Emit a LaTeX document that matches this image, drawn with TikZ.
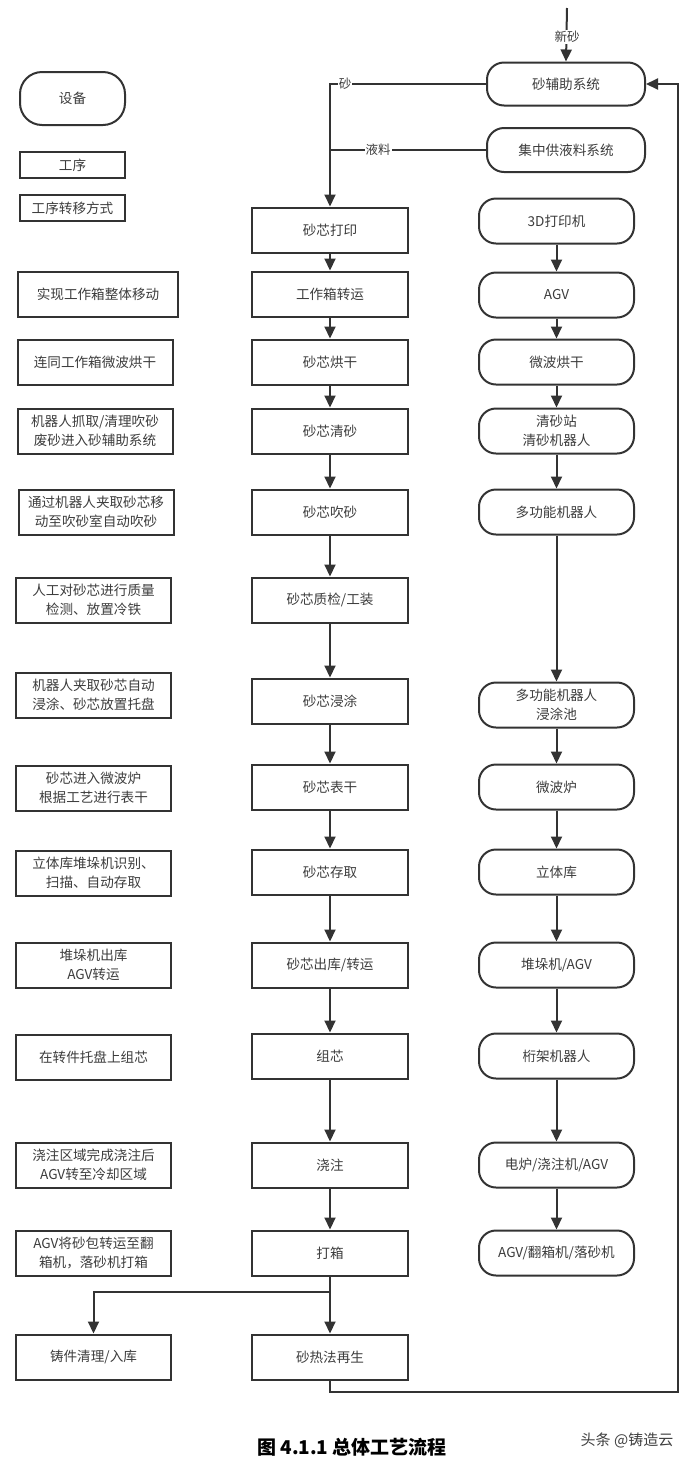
\documentclass[tikz,border=0pt]{standalone}
\usepackage{fontspec}
\setmainfont{Noto Sans CJK SC}
\usepackage{tikz}
\usetikzlibrary{arrows.meta, positioning}

\definecolor{linegray}{HTML}{333333}
\definecolor{textgray}{HTML}{3C3C3C}

\begin{document}
\begin{tikzpicture}
[x=1pt, y=-1pt,
 >={Triangle[length=12pt,width=11pt]},
 every node/.style={text=textgray, font=\fontsize{13.6}{18.5}\selectfont, align=center},
 proc/.style={draw=linegray, line width=2pt, rectangle,
   minimum width=156pt, minimum height=45pt, inner sep=2pt},
 device/.style={proc, rounded corners=17pt},
 note/.style={proc, minimum width=155pt},
 lbl/.style={fill=white, inner sep=1pt, font=\fontsize{12.5}{14}\selectfont},
 flow/.style={->, draw=linegray, line width=2pt},
 wire/.style={draw=linegray, line width=2pt},
]
\useasboundingbox (0,0) rectangle (700,1468);

% legend
\node[device, minimum width=105pt, minimum height=53pt, rounded corners=22pt] (legdev) at (72.5,98.5) {设备};
\node[proc, minimum width=105pt, minimum height=26pt] (legproc) at (72.5,165) {工序};
\node[proc, minimum width=105pt, minimum height=26pt] (legmove) at (72.5,208) {工序转移方式};

% supply systems
\node[device, minimum width=158pt, minimum height=43pt] (sandsys) at (566,84) {砂辅助系统};
\node[device, minimum width=158pt, minimum height=44pt] (liqsys) at (566,150) {集中供液料系统};

% process steps
\node[proc] (print)   at (330,230)  {砂芯打印};
\node[proc] (boxmove) at (330,294)  {工作箱转运};
\node[proc] (dry)     at (330,362)  {砂芯烘干};
\node[proc] (clean)   at (330,431)  {砂芯清砂};
\node[proc] (blow)    at (330,512)  {砂芯吹砂};
\node[proc] (check)   at (330,600)  {砂芯质检/工装};
\node[proc] (dip)     at (330,701)  {砂芯浸涂};
\node[proc] (surf)    at (330,787)  {砂芯表干};
\node[proc] (store)   at (330,872)  {砂芯存取};
\node[proc] (out)     at (330,965)  {砂芯出库/转运};
\node[proc] (core)    at (330,1056) {组芯};
\node[proc] (pour)    at (330,1165) {浇注};
\node[proc] (shake)   at (330,1253) {打箱};
\node[proc] (regen)   at (330,1357) {砂热法再生};

% transfer notes
\node[note, minimum width=160pt] (nboxmove) at (98,294)  {实现工作箱整体移动};
\node[note] (ndry)     at (95,362)  {连同工作箱微波烘干};
\node[note] (nclean)   at (95,431)  {机器人抓取/清理吹砂\\废砂进入砂辅助系统};
\node[note] (nblow)    at (96,512)  {通过机器人夹取砂芯移\\动至吹砂室自动吹砂};
\node[note] (ncheck)   at (93.5,600)  {人工对砂芯进行质量\\检测、放置冷铁};
\node[note] (ndip)     at (93.5,695)  {机器人夹取砂芯自动\\浸涂、砂芯放置托盘};
\node[note] (nsurf)    at (93.5,788)  {砂芯进入微波炉\\根据工艺进行表干};
\node[note] (nstore)   at (93.5,873)  {立体库堆垛机识别、\\扫描、自动存取};
\node[note] (nout)     at (93.5,965)  {堆垛机出库\\AGV转运};
\node[note] (ncore)    at (93.5,1057) {在转件托盘上组芯};
\node[note] (npour)    at (93.5,1165) {浇注区域完成浇注后\\AGV转至冷却区域};
\node[note] (nshake)   at (93.5,1253) {AGV将砂包转运至翻\\箱机，落砂机打箱};
\node[note] (cast)     at (93.5,1357) {铸件清理/入库};

% devices
\node[device, minimum width=155pt] (printer) at (556.5,221)  {3D打印机};
\node[device, minimum width=155pt] (agv)     at (556.5,295)  {AGV};
\node[device, minimum width=155pt] (oven)    at (556.5,362)  {微波烘干};
\node[device, minimum width=155pt] (station) at (556.5,431)  {清砂站\\清砂机器人};
\node[device, minimum width=155pt] (robot)   at (556.5,512)  {多功能机器人};
\node[device, minimum width=155pt] (pool)    at (556.5,705)  {多功能机器人\\浸涂池};
\node[device, minimum width=155pt] (furnace) at (556.5,787)  {微波炉};
\node[device, minimum width=155pt] (rack)    at (556.5,872)  {立体库};
\node[device, minimum width=155pt] (stacker) at (556.5,965)  {堆垛机/AGV};
\node[device, minimum width=155pt] (gantry)  at (556.5,1056) {桁架机器人};
\node[device, minimum width=155pt] (pourer)  at (556.5,1165) {电炉/浇注机/AGV};
\node[device, minimum width=155pt] (flipper) at (556.5,1253) {AGV/翻箱机/落砂机};

% turning points
\coordinate (newsand) at (567,8);
\coordinate (sandturn) at (330,84);
\coordinate (split) at (330,1292);
\coordinate (backleft) at (330,1392);
\coordinate (backright) at (678,1392);
\coordinate (backtop) at (678,84);

% supply lines
\draw[flow] (newsand) -- (sandsys.north);
\draw[flow] (sandsys.west) -- (sandturn) -- (print.north);
\draw[wire] (liqsys.west) -- (liqsys.west -| sandturn);
\node[lbl] (lblnew) at (567,37) {新砂};
\node[lbl] (lblsand) at (345,84) {砂};
\node[lbl] (lblliq) at (378,150) {液料};

% process flow
\foreach \a/\b in {print/boxmove, boxmove/dry, dry/clean, clean/blow, blow/check,
  check/dip, dip/surf, surf/store, store/out, out/core, core/pour, pour/shake, shake/regen}
  \draw[flow] (\a.south) -- (\b.north);
\draw[flow] (split) -- (split -| cast.north) -- (cast.north);

% device flow
\foreach \a/\b in {printer/agv, agv/oven, oven/station, station/robot, robot/pool,
  pool/furnace, furnace/rack, rack/stacker, stacker/gantry, gantry/pourer, pourer/flipper}
  \draw[flow] (\a.south) -- (\b.north);

% sand back to the supply system
\draw[flow] (regen.south) -- (backleft) -- (backright) -- (backtop) -- (sandsys.east);

% caption
\node[font=\fontsize{19}{22}\selectfont\bfseries, text=black] (caption) at (352,1447) {图 4.1.1 总体工艺流程};
\node[font=\fontsize{15}{18}\selectfont, text=black!75] (credit) at (627,1440) {头条 @铸造云};
\end{tikzpicture}
\end{document}
